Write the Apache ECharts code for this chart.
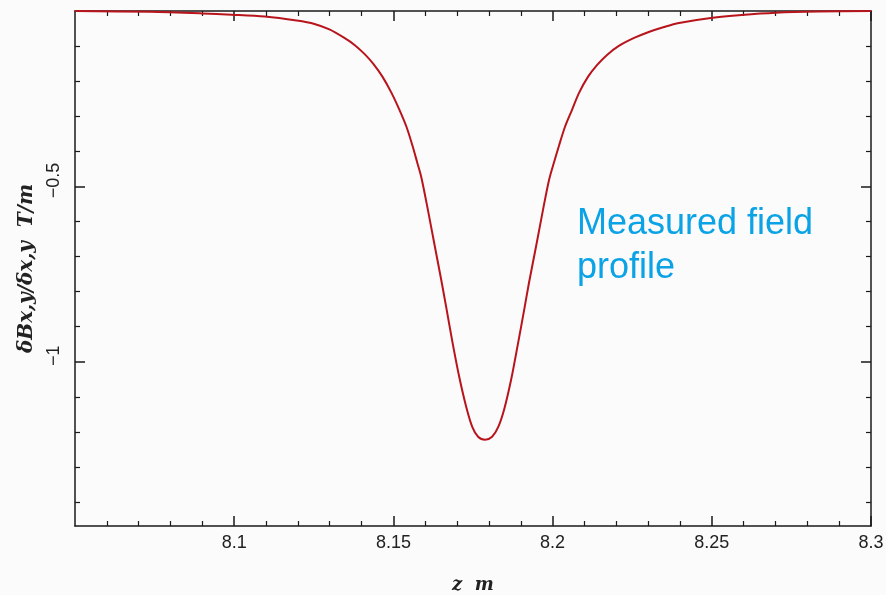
<!DOCTYPE html>
<html>
<head>
<meta charset="utf-8">
<script src="https://cdn.jsdelivr.net/npm/echarts@6/dist/echarts.min.js"></script>
<style>
html,body{margin:0;padding:0;background:#fbfbfb}
#chart{width:886px;height:595px}
</style>
</head>
<body>
<div id="chart"></div>
<script>
// measured gradient profile
const zPos = [8.05, 8.0735, 8.0898, 8.0992, 8.1096, 8.1196, 8.1252, 8.1299, 8.1346, 8.1378,
  8.1409, 8.1437, 8.1466, 8.1494, 8.1519, 8.1541, 8.156, 8.1575, 8.1588, 8.1607,
  8.1629, 8.165, 8.1666, 8.1685, 8.1707, 8.1729, 8.1748, 8.1766, 8.1788, 8.181,
  8.1829, 8.1848, 8.187, 8.1892, 8.1911, 8.1926, 8.1948, 8.197, 8.1989, 8.2005,
  8.202, 8.2039, 8.2061, 8.2083, 8.2111, 8.214, 8.2171, 8.2208, 8.2256, 8.2302,
  8.235, 8.2397, 8.2497, 8.2594, 8.2701, 8.2835, 8.3]
const dB = [0, -0.0023, -0.0068, -0.0105, -0.0159, -0.0273, -0.037, -0.0526, -0.0768, -0.0967,
  -0.1223, -0.1508, -0.1878, -0.2333, -0.2817, -0.33, -0.3841, -0.4324, -0.4751, -0.5605,
  -0.6657, -0.7653, -0.845, -0.9417, -1.0441, -1.1294, -1.1863, -1.2134, -1.2219, -1.2134,
  -1.1863, -1.1351, -1.0498, -0.9445, -0.8506, -0.7738, -0.6714, -0.5661, -0.4808, -0.4296,
  -0.3841, -0.33, -0.2817, -0.2333, -0.1878, -0.1536, -0.1252, -0.0996, -0.0768, -0.0597,
  -0.0455, -0.0341, -0.0199, -0.0114, -0.0051, -0.0017, 0]

const xMajor = [8.1, 8.15, 8.2, 8.25, 8.3]
const xMinor = [8.06, 8.07, 8.08, 8.09, 8.11, 8.12, 8.13, 8.14, 8.16, 8.17, 8.18, 8.19,
  8.21, 8.22, 8.23, 8.24, 8.26, 8.27, 8.28, 8.29]
const yMajor = [-0.5, -1]
const yMinor = [-0.1, -0.2, -0.3, -0.4, -0.6, -0.7, -0.8, -0.9, -1.1, -1.2, -1.3, -1.4]

const xMin = 8.05, xMax = 8.3
const yMin = -1.468, yMax = 0

const lineCol = '#1a1a1a'
const tickFont = 'Liberation Sans, Arial, sans-serif'
const nameFont = { fontFamily: 'DejaVu Serif, serif', fontStyle: 'italic', fontWeight: 'bold', color: '#222' }

function frameAxis(position, min, max, ticks, len, showLine) {
  return {
    type: 'value',
    position: position,
    min: min,
    max: max,
    splitLine: { show: false },
    axisLine: { show: showLine, onZero: false, lineStyle: { color: lineCol, width: 1.5 } },
    axisTick: { show: true, inside: true, length: len, customValues: ticks,
      lineStyle: { color: lineCol, width: len > 6 ? 1.5 : 1.2 } },
    axisLabel: { show: false }
  }
}

const chart = echarts.init(document.getElementById('chart'))

const xMain = frameAxis('bottom', xMin, xMax, xMajor, 10, true)
xMain.axisLabel = {
  show: true,
  customValues: xMajor,
  margin: 8,
  color: '#222',
  fontFamily: tickFont,
  fontSize: 18,
  formatter: v => String(+v.toFixed(2))
}
xMain.name = 'z  m'
xMain.nameLocation = 'middle'
xMain.nameGap = 50
xMain.nameTextStyle = Object.assign({ fontSize: 18 }, nameFont)

const yMain = frameAxis('left', yMin, yMax, yMajor, 10, true)
yMain.axisLabel = {
  show: true,
  customValues: yMajor,
  rotate: 90,
  margin: 12,
  padding: [0, 0, 0, 12],
  color: '#222',
  fontFamily: tickFont,
  fontSize: 18,
  formatter: v => (v < 0 ? '\u2212' : '') + String(+Math.abs(v).toFixed(2))
}
yMain.name = '\u03B4Bx,y/\u03B4x,y  T/m'
yMain.nameLocation = 'middle'
yMain.nameGap = 38
yMain.nameTextStyle = Object.assign({ fontSize: 20 }, nameFont)

chart.setOption({
  backgroundColor: '#fbfbfb',
  animation: false,
  grid: { left: 75, right: 15, top: 11, bottom: 69, outerBoundsMode: 'none' },
  xAxis: [
    xMain,
    frameAxis('bottom', xMin, xMax, xMinor, 5, false),
    frameAxis('top', xMin, xMax, xMajor, 10, true),
    frameAxis('top', xMin, xMax, xMinor, 5, false)
  ],
  yAxis: [
    yMain,
    frameAxis('left', yMin, yMax, yMinor, 5, false),
    frameAxis('right', yMin, yMax, yMajor, 10, true),
    frameAxis('right', yMin, yMax, yMinor, 5, false)
  ],
  series: [{
    type: 'line',
    xAxisIndex: 0,
    yAxisIndex: 0,
    data: zPos.map((z, i) => [z, dB[i]]),
    symbol: 'none',
    smooth: 0.3,
    clip: true,
    lineStyle: { color: '#b8141c', width: 2 }
  }],
  graphic: [
    { type: 'text', left: 577, top: 206,
      style: { text: 'Measured field', fill: '#0ba3e6', fontSize: 36, fontFamily: 'Liberation Sans, Arial, sans-serif' } },
    { type: 'text', left: 577, top: 250,
      style: { text: 'profile', fill: '#0ba3e6', fontSize: 36, fontFamily: 'Liberation Sans, Arial, sans-serif' } }
  ]
})
</script>
</body>
</html>
